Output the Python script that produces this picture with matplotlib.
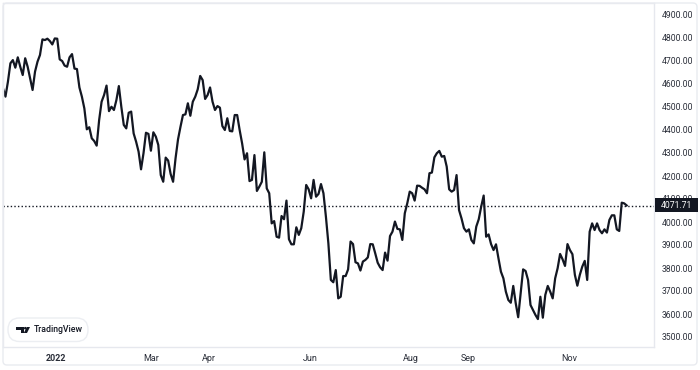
import numpy as np
import matplotlib
matplotlib.use('Agg')
import matplotlib.pyplot as plt
from matplotlib.patches import FancyBboxPatch, Polygon, Rectangle, Circle

# daily closes
closes = [
    4581, 4545, 4610, 4690, 4704, 4671, 4716, 4675, 4639, 4712, 4675, 4625, 4574, 4654, 4697, 4726,
    4794, 4791, 4797, 4787, 4772, 4798, 4797, 4707, 4700, 4680, 4675, 4716, 4730, 4667, 4665, 4585,
    4545, 4494, 4403, 4412, 4364, 4352, 4332, 4443, 4523, 4552, 4593, 4482, 4501, 4487, 4530, 4591,
    4501, 4422, 4407, 4475, 4480, 4385, 4349, 4306, 4229, 4299, 4388, 4383, 4310, 4390, 4371, 4335,
    4204, 4175, 4280, 4267, 4209, 4175, 4277, 4359, 4414, 4465, 4468, 4516, 4462, 4523, 4545, 4577,
    4635, 4617, 4535, 4552, 4585, 4523, 4487, 4504, 4497, 4417, 4400, 4451, 4396, 4394, 4465, 4465,
    4400, 4342, 4272, 4299, 4178, 4183, 4291, 4135, 4154, 4175, 4303, 4146, 4125, 3994, 4004, 3936,
    3932, 4026, 4012, 4093, 3925, 3903, 3903, 3977, 3944, 3973, 4045, 4161, 4142, 4103, 4183, 4110,
    4122, 4165, 4125, 4023, 3907, 3748, 3738, 3791, 3668, 3675, 3765, 3765, 3794, 3915, 3904, 3825,
    3820, 3789, 3828, 3835, 3846, 3904, 3903, 3864, 3823, 3803, 3791, 3867, 3832, 3939, 3958, 4002,
    3970, 3968, 3922, 4038, 4081, 4132, 4125, 4093, 4158, 4157, 4149, 4142, 4125, 4212, 4215, 4281,
    4299, 4309, 4284, 4287, 4241, 4142, 4132, 4139, 4204, 4052, 4016, 3973, 3958, 3968, 3922, 3907,
    3980, 4012, 4067, 4115, 3936, 3946, 3904, 3878, 3903, 3842, 3784, 3755, 3697, 3661, 3649, 3722,
    3647, 3586, 3690, 3794, 3787, 3748, 3639, 3618, 3596, 3578, 3675, 3584, 3683, 3722, 3697, 3668,
    3755, 3799, 3861, 3838, 3809, 3904, 3878, 3860, 3770, 3723, 3770, 3806, 3831, 3748, 3958, 3994,
    3965, 3994, 3965, 3951, 3968, 3954, 4009, 4029, 4029, 3968, 3961, 4084, 4081, 4072,
]
last_price = 4071.71
price_ticks = [3500, 3600, 3700, 3800, 3900, 4000, 4100, 4200, 4300, 4400, 4500, 4600, 4700, 4800, 4900]
month_labels = ['2022', 'Mar', 'Apr', 'Jun', 'Aug', 'Sep', 'Nov']
month_pos = [21.5, 60, 83.6, 124.5, 165.5, 188.6, 229.6]

W, H = 700, 370
plt.rcParams['font.family'] = ['Roboto', 'DejaVu Sans']

fig = plt.figure(figsize=(W / 100, H / 100), dpi=100, facecolor='white')
ax = fig.add_axes([3 / W, 1 - 347 / H, (654 - 3) / W, (347 - 3) / H])

x = np.arange(len(closes))
ax.plot(x, closes, color='#131722', lw=1.6, solid_joinstyle='round')
ax.axhline(last_price, color='#131722', lw=1, ls=(0, (1, 1.6)), zorder=1)

step = 2.465
ax.set_xlim(0, (654 - 3) / step)
ax.set_ylim(3500 - 10 / 23 * 100, 4900 + 12 / 23 * 100)

ax.yaxis.tick_right()
ax.set_yticks(price_ticks)
ax.set_yticklabels(['%.2f' % p for p in price_ticks], fontsize=6.2, color='#2a2e39')
ax.set_xticks(month_pos)
ax.set_xticklabels(month_labels, fontsize=6.5, color='#2a2e39')
ax.get_xticklabels()[0].set_fontweight('bold')
ax.tick_params(axis='both', length=0)
ax.tick_params(axis='x', pad=5)
ax.tick_params(axis='y', pad=5.8)
for s in ax.spines.values():
    s.set_color('#e6e8ee')
    s.set_linewidth(1)

# overlay in picture pixels for the widget furniture
over = fig.add_axes([0, 0, 1, 1], facecolor='none')
over.set_xlim(0, W)
over.set_ylim(H, 0)
over.axis('off')

over.add_patch(FancyBboxPatch((3, 3), 694, 362, boxstyle='round,pad=0,rounding_size=4', fc='none', ec='#e9ebf0', lw=1))

# last price tag
over.add_patch(Rectangle((655, 198), 43, 14, fc='#131722', ec='none'))
over.text(676.5, 205.3, '%.2f' % last_price, color='white', fontsize=6.2, ha='center', va='center')

# TradingView badge
over.add_patch(FancyBboxPatch((8, 318), 80, 23.5, boxstyle='round,pad=0,rounding_size=11.5', fc='white', ec='#eceef2', lw=1))
over.add_patch(Polygon([(16, 327), (24, 327), (24, 333), (20.5, 333), (20.5, 330), (16, 330)], fc='#131722', ec='none'))
over.add_patch(Polygon([(30, 327), (27, 333), (23.8, 333), (26.8, 327)], fc='#131722', ec='none'))
over.add_patch(Circle((25.3, 328.2), 1.3, fc='#131722', ec='none'))
over.text(34, 330, 'TradingView', color='#131722', fontsize=6.3, fontweight='medium', ha='left', va='center')

fig.savefig('out.png', dpi=100)
